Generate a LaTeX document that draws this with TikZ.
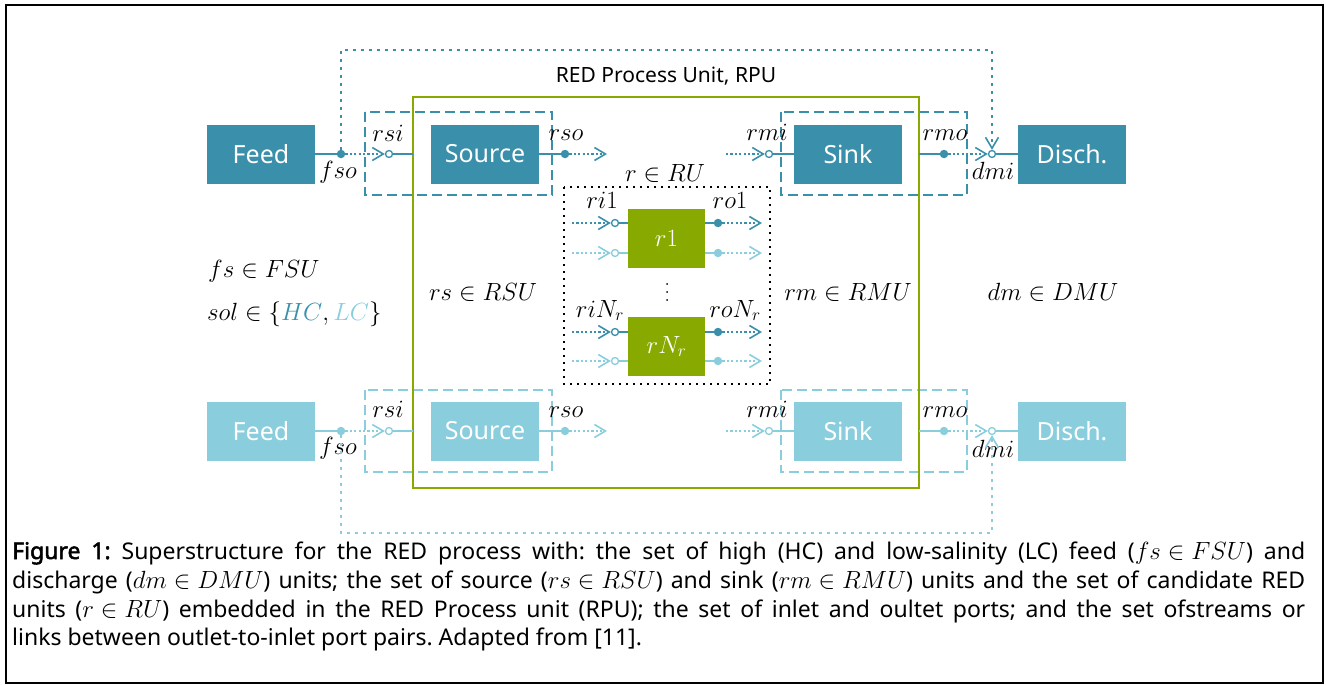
\documentclass[tikz,border=0pt]{standalone}
\usepackage[no-math]{fontspec}
\newfontfamily\sansf{Noto Sans}
\newfontfamily\sansb{Noto Sans}[FakeBold=2.2]
\usetikzlibrary{arrows.meta}
\definecolor{hc}{HTML}{3A8FAB}
\definecolor{lc}{HTML}{8ACEDE}
\definecolor{rpu}{HTML}{88AA00}
% inline math in the caption, kept at its natural width
\newcommand{\capm}[1]{\mbox{$#1$}}

\begin{document}
\begin{tikzpicture}[x=1pt,y=-1pt,
  unitbox/.style={fill=#1, minimum width=108pt, minimum height=59pt, inner sep=0pt,
    text=white, font=\sansf\fontsize{25}{30}\selectfont},
  redbox/.style={fill=rpu, minimum width=77pt, minimum height=59pt, inner sep=0pt,
    text=white, font=\fontsize{24}{28}\selectfont},
  pout/.style={circle, fill=#1, inner sep=0pt, minimum size=8.5pt},
  pin/.style={circle, draw=#1, fill=white, line width=1.3pt, inner sep=0pt, minimum size=7pt},
  solidlink/.style={draw=#1, line width=1.8pt},
  dotflow/.style={draw=#1, line width=1.6pt, dash pattern=on 2.2pt off 2.2pt,
    -{Straight Barb[length=11pt,width=13pt,line width=1.6pt]}},
  fbline/.style={draw=#1, line width=2.2pt, dash pattern=on 2.2pt off 5.8pt,
    -{Straight Barb[length=11pt,width=13pt,line width=1.6pt]}},
  portbox/.style={draw=#1, line width=1.5pt, dash pattern=on 10pt off 5pt},
  lbl/.style={font=\fontsize{24}{28}\selectfont, inner sep=0pt, anchor=base},
  caption/.style={font=\sansf\fontsize{23}{28}\selectfont\frenchspacing, inner sep=0pt, anchor=base west},
]
\useasboundingbox (0,0) rectangle (1326,685);

% outer frame
\draw[line width=2pt] (6,5) rectangle (1323,683);

% dashed port boxes around source and sink units
\draw[portbox=hc] (365,112) rectangle (552,195);
\draw[portbox=hc] (781,112) rectangle (967,195);
\draw[portbox=lc] (365,390) rectangle (552,472);
\draw[portbox=lc] (781,390) rectangle (967,472);

% RED process unit
\draw[rpu, line width=2pt] (413,97) rectangle (919,488);
\coordinate (rpuW) at (413,300);
\coordinate (rpuE) at (919,300);
\node[font=\sansf\fontsize{21}{25}\selectfont, anchor=base, inner sep=0pt] (rpulbl) at (666,83) {RED Process Unit, RPU};

% set of RED units
\draw[line width=1.5pt, dash pattern=on 1.6pt off 5.4pt] (564,187) rectangle (770,384);
\node[lbl] (rulbl) at (665,181) {$r\in RU$};
\node[redbox] (r1) at (666.5,238.5) {$r1$};
\node[redbox] (rN) at (666.5,346.5) {$rN_r$};
\foreach \yy in {284,292,300} \fill (667,\yy) circle (1pt);
\node[lbl] (ri1lbl) at (602,208) {$ri1$};
\node[lbl] (ro1lbl) at (730,208) {$ro1$};
\node[lbl] (riNlbl) at (600,317) {$riN_r$};
\node[lbl] (roNlbl) at (735,317) {$roN_r$};

\foreach \b/\yy/\c/\k in {r1/223/hc/a, r1/253/lc/b, rN/332/hc/c, rN/361/lc/d} {
  \coordinate (ris\k) at (572,\yy);
  \node[pin=\c] (ri\k) at (615,\yy) {};
  \node[pout=\c] (ro\k) at (718,\yy) {};
  \coordinate (roe\k) at (762,\yy);
  \draw[dotflow=\c] (ris\k) -- (ri\k.west);
  \draw[solidlink=\c] (ri\k) -- (ri\k -| \b.west);
  \draw[solidlink=\c] (\b.east |- ro\k) -- (ro\k);
  \draw[dotflow=\c] (ro\k) -- (roe\k);
}

% feed, source, sink and discharge rows
\coordinate (topY) at (0,50);
\coordinate (botY) at (0,533);
\foreach \c/\yy/\k in {hc/154/H, lc/431/L} {
  \node[unitbox=\c] (feed\k) at (261,\yy) {Feed};
  \node[unitbox=\c] (src\k) at (485,\yy) {Source};
  \node[unitbox=\c] (sink\k) at (848,\yy) {Sink};
  \node[unitbox=\c] (disch\k) at (1072,\yy) {Disch.};
  \node[pout=\c] (fso\k) at (341,\yy) {};
  \node[pin=\c] (rsi\k) at (389,\yy) {};
  \node[pout=\c] (rso\k) at (565,\yy) {};
  \coordinate (rsoe\k) at (607,\yy);
  \coordinate (rmis\k) at (726,\yy);
  \node[pin=\c] (rmi\k) at (769,\yy) {};
  \node[pout=\c] (rmo\k) at (944,\yy) {};
  \node[pin=\c] (dmi\k) at (992,\yy) {};
  \draw[solidlink=\c] (feed\k.east) -- (fso\k);
  \draw[dotflow=\c] (fso\k) -- (rsi\k.west);
  \draw[solidlink=\c] (rsi\k) -- (rsi\k -| rpuW);
  \draw[solidlink=\c] (src\k.east) -- (rso\k);
  \draw[dotflow=\c] (rso\k) -- (rsoe\k);
  \draw[dotflow=\c] (rmis\k) -- (rmi\k.west);
  \draw[solidlink=\c] (rmi\k) -- (sink\k.west);
  \draw[solidlink=\c] (rmo\k -| rpuE) -- (rmo\k);
  \draw[dotflow=\c] (rmo\k) -- (dmi\k.west);
  \draw[solidlink=\c] (dmi\k) -- (disch\k.west);
}
\node[lbl] (rsiHl) at (388,141) {$rsi$};
\node[lbl] (fsoHl) at (338,178) {$fso$};
\node[lbl] (rsoHl) at (566,140) {$rso$};
\node[lbl] (rmiHl) at (767,140) {$rmi$};
\node[lbl] (rmoHl) at (945,140) {$rmo$};
\node[lbl] (dmiHl) at (993,179) {$dmi$};
\node[lbl] (rsiLl) at (388,417) {$rsi$};
\node[lbl] (fsoLl) at (338,454) {$fso$};
\node[lbl] (rsoLl) at (566,417) {$rso$};
\node[lbl] (rmiLl) at (767,417) {$rmi$};
\node[lbl] (rmoLl) at (945,417) {$rmo$};
\node[lbl] (dmiLl) at (993,457) {$dmi$};

% bypass streams from feed straight to discharge
\draw[fbline=hc] (fsoH) -- (fsoH |- topY) -| (dmiH.north);
\draw[fbline=lc] (fsoL) -- (fsoL |- botY) -| (dmiL.south);

% set labels
\node[lbl, anchor=base west] (fslbl) at (208,277) {$fs\in FSU$};
\node[lbl, anchor=base west] (sollbl) at (207,320) {$sol\in\{\textcolor{hc}{HC},\textcolor{lc}{LC}\}$};
\node[lbl] (rslbl) at (483,300) {$rs\in RSU$};
\node[lbl] (rmlbl) at (848,300) {$rm\in RMU$};
\node[lbl] (dmlbl) at (1053,300) {$dm\in DMU$};

% caption, justified over the full width
\node[caption] (cap1) at (12,559) {\makebox[1293pt][s]{{\sansb Figure 1:} Superstructure for the RED process with: the set of high (HC) and low-salinity (LC) feed (\capm{fs\in FSU}) and}};
\node[caption] (cap2) at (12,588) {\makebox[1293pt][s]{discharge (\capm{dm\in DMU}) units; the set of source (\capm{rs\in RSU}) and sink (\capm{rm\in RMU}) units and the set of candidate RED}};
\node[caption] (cap3) at (12,617) {\makebox[1293pt][s]{units (\capm{r\in RU}) embedded in the RED Process unit (RPU); the set of inlet and oultet ports; and the set ofstreams or}};
\node[caption] (cap4) at (12,645) {links between outlet-to-inlet port pairs. Adapted from [11].};
\end{tikzpicture}
\end{document}
